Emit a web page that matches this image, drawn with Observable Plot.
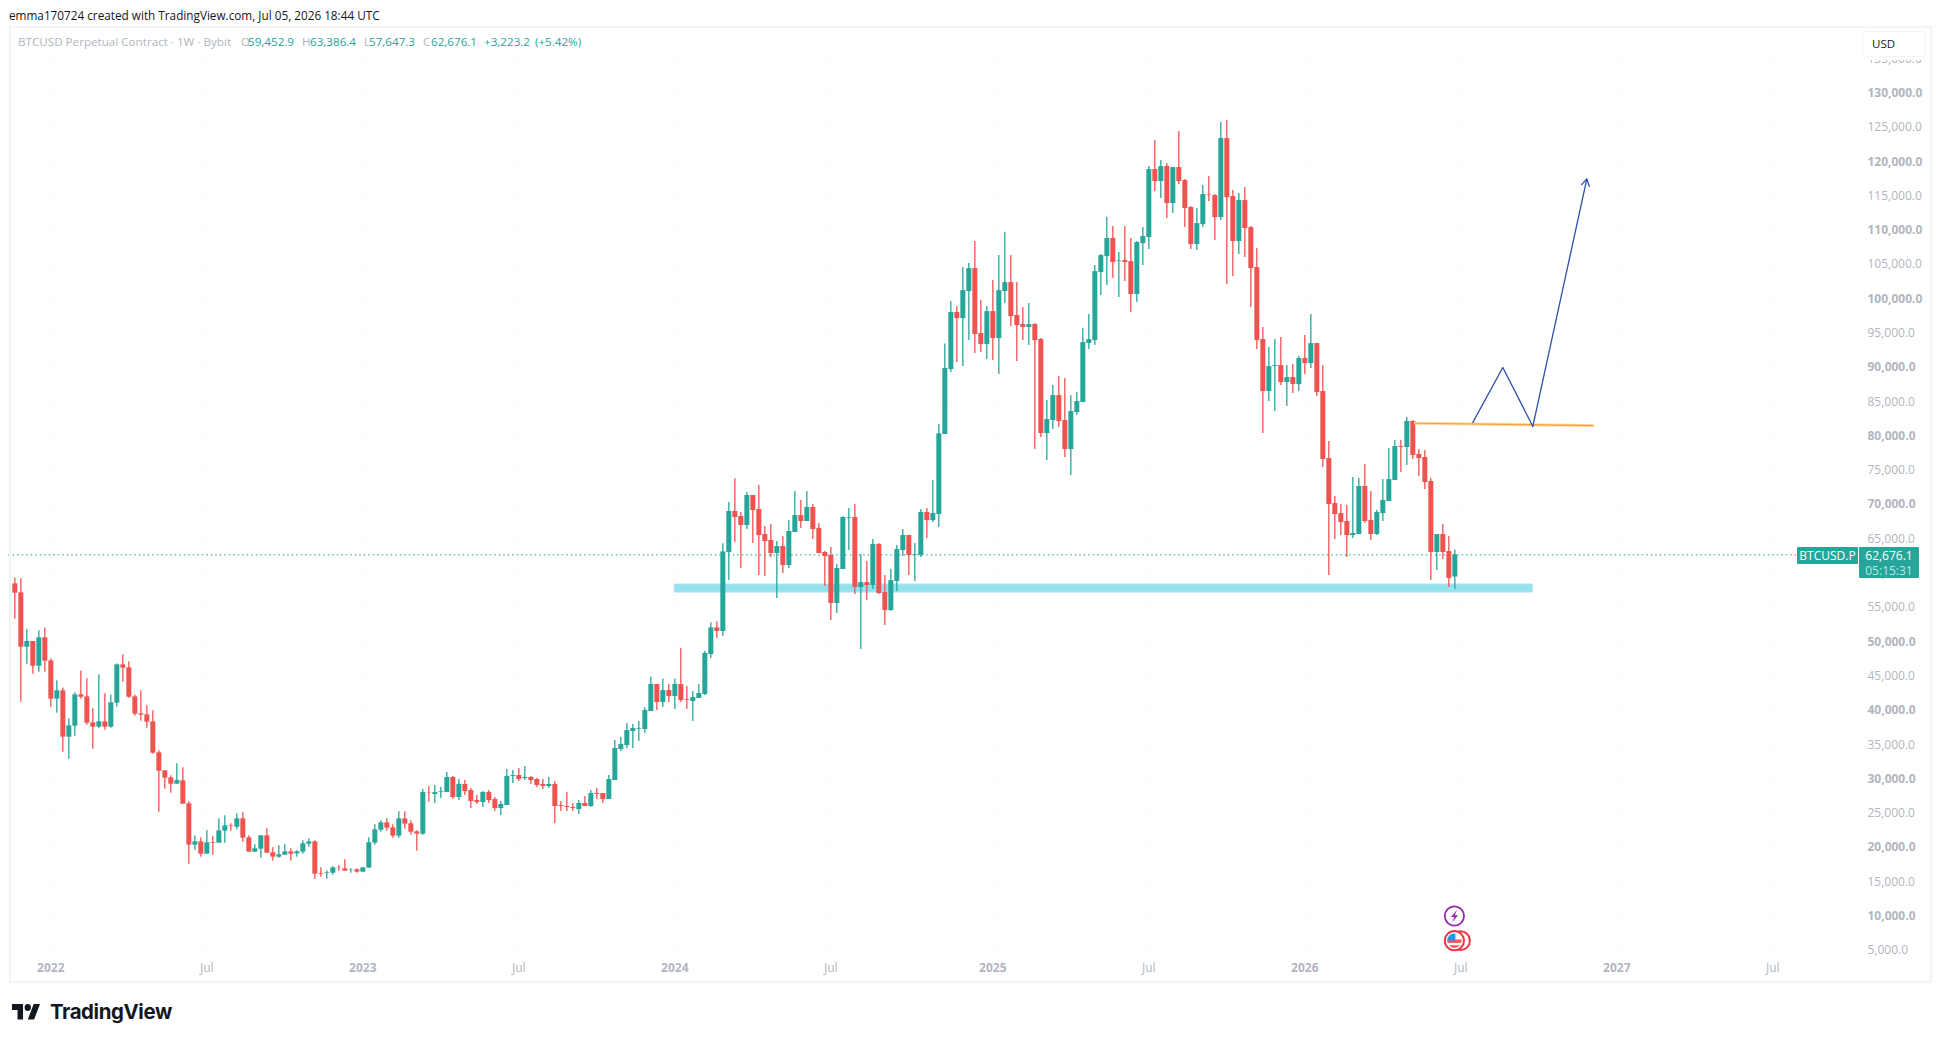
<!DOCTYPE html>
<html>
<head>
<meta charset="utf-8">
<script src="https://cdn.jsdelivr.net/npm/d3@7"></script>
<script src="https://cdn.jsdelivr.net/npm/@observablehq/plot@0.6"></script>
<style>
html,body{margin:0;padding:0;background:#fff;width:1940px;height:1042px;overflow:hidden}
body{position:relative;font-family:"Open Sans",sans-serif}
#chart{position:absolute;left:0;top:0}
.t{position:absolute;white-space:nowrap}
#frame{position:absolute;left:9px;top:26px;width:1919px;height:953px;border:2px solid #f3f4f6;pointer-events:none}
#head{left:9px;top:7px;font-size:11.75px;color:#131722}
#legend{left:18px;top:34px;font-size:11.65px;color:#b2b5be;line-height:16px}
#legend span{position:absolute;top:0;white-space:nowrap}
#legend .g{color:#26a69a}
#usdmask{left:1862px;top:31px;width:64px;height:29px;background:#fff}
#usd{left:1862px;top:31px;width:62px;height:24px;background:#fff;border:1px solid #f0f3fa;border-radius:4px;font-size:11.5px;color:#131722;line-height:24px;text-indent:9px}
#sym{left:1797px;top:547px;width:61px;height:17px;background:#26a69a;color:#fff;font-size:12px;line-height:17px;text-align:center;border-radius:1px}
#price{left:1859px;top:547px;width:60px;height:31px;background:#26a69a;color:#fff;font-size:12px;line-height:15px;text-align:center;border-radius:1px}
#price div{padding-top:1px}
#price div+div{padding-top:0;color:#bfe4e0}
#tvname{left:50px;top:1000px;font-family:Inter,sans-serif;font-weight:700;font-size:20.4px;line-height:24px;letter-spacing:-.4px;color:#131722}
</style>
</head>
<body>
<div id="chart"></div>
<div id="frame"></div>
<div class="t" id="head">emma170724 created with TradingView.com, Jul 05, 2026 18:44 UTC</div>
<div class="t" id="legend">
  <span style="left:0">BTCUSD Perpetual Contract · 1W · Bybit</span>
  <span style="left:223px">O</span><span class="g" style="left:230px">59,452.9</span>
  <span style="left:284px">H</span><span class="g" style="left:292px">63,386.4</span>
  <span style="left:346px">L</span><span class="g" style="left:351px">57,647.3</span>
  <span style="left:405px">C</span><span class="g" style="left:413px">62,676.1</span>
  <span class="g" style="left:466px">+3,223.2</span><span class="g" style="left:517px">(+5.42%)</span>
</div>
<div class="t" id="usdmask"></div>
<div class="t" id="usd">USD</div>
<div class="t" id="sym">BTCUSD.P</div>
<div class="t" id="price"><div>62,676.1</div><div>05:15:31</div></div>
<svg class="t" style="left:12px;top:1004px" width="28" height="15.5" viewBox="0 4 35.5 18" preserveAspectRatio="none"><path fill="#131722" d="M14 22H7V11H0V4h14v18zM28 22h-8l7.5-18h8L28 22z"/><circle fill="#131722" cx="20" cy="8" r="4"/></svg>
<div class="t" id="tvname">TradingView</div>
<svg class="t" style="left:1440px;top:900px" width="40" height="56" viewBox="0 0 40 56">
  <circle cx="14.4" cy="16" r="9.6" fill="#fff" stroke="#9c27b0" stroke-width="1.8"/>
  <path d="M17 9.8l-6 7.2h3.4l-2.4 5.4 6.2-7.2h-3.4z" fill="#9c27b0"/>
  <circle cx="20.5" cy="40.7" r="9.4" fill="#fff" stroke="#f23645" stroke-width="2"/>
  <circle cx="14.4" cy="40.7" r="9.6" fill="#fff" stroke="#f23645" stroke-width="2"/>
  <clipPath id="fl"><circle cx="14.4" cy="40.7" r="7.2"/></clipPath>
  <g clip-path="url(#fl)">
    <rect x="7" y="33" width="15" height="16" fill="#fff"/>
    <rect x="7" y="39.5" width="15" height="3.4" fill="#f7525f"/>
    <rect x="7" y="45.3" width="15" height="3.4" fill="#f7525f"/>
    <rect x="7" y="33" width="8.4" height="7.4" fill="#2196f3"/>
  </g>
</svg>
<script>
// Weekly BTCUSD.P candles (thousand USD), first candle week of 2021-11-22
const startWeek = "2021-11-22";
const opens = [
58.45,57.14,49.21,50.04,46.44,50.58,47.22,41.63,42.85,36.09,
37.70,42.26,41.97,38.18,37.55,38.33,37.55,41.05,46.64,46.20,
41.97,39.49,39.35,38.33,33.81,31.18,30.16,29.24,29.72,26.37,
20.35,20.83,19.03,20.69,20.64,22.39,23.16,22.97,24.18,21.42,
19.33,19.76,21.71,19.23,18.60,18.89,19.37,19.08,19.33,20.49,
20.83,16.17,16.21,16.26,17.04,16.90,16.70,16.75,16.41,17.00,
20.64,22.53,23.60,22.87,21.66,24.18,23.46,22.29,21.95,27.97,
27.73,28.07,28.02,30.21,27.29,29.19,28.31,26.85,26.56,28.02,
27.00,25.69,26.12,30.35,30.50,30.06,30.21,29.92,29.19,28.90,
29.19,26.12,25.98,25.83,25.54,26.42,25.98,27.87,27.87,27.00,
29.77,34.29,34.87,36.91,37.25,37.21,39.83,43.77,41.14,42.89,
42.02,43.77,41.58,41.29,41.73,42.31,48.14,52.03,51.50,63.02,
69.00,68.27,66.95,71.33,69.29,65.64,64.77,62.87,63.89,61.12,
65.93,68.41,67.54,69.58,66.52,63.02,62.58,55.58,60.54,68.02,
68.12,57.91,58.64,58.21,64.18,57.18,54.56,58.79,63.31,65.50,
62.58,62.58,68.85,67.68,68.56,80.22,89.70,98.01,97.13,101.07,
104.42,94.94,93.34,98.15,94.22,101.07,102.38,97.57,96.26,95.82,
96.26,94.07,80.36,82.26,85.90,82.26,78.03,83.43,84.88,93.49,
93.92,103.84,106.17,108.80,105.49,105.59,105.44,100.63,108.07,108.94,
118.86,117.11,119.30,113.90,119.15,117.25,113.32,107.92,110.84,115.16,
115.07,111.86,123.38,114.92,108.36,114.34,110.40,104.57,94.07,86.49,
90.14,90.28,87.80,88.53,87.51,91.30,90.57,93.49,86.49,76.72,
70.16,68.70,67.54,65.50,65.64,72.64,67.68,65.64,68.70,70.45,
73.52,78.47,78.33,82.12,77.31,76.87,73.37,63.02,65.64,63.16,59.4529];
const highs = [
59.32,59.18,51.74,50.04,51.60,52.03,47.51,44.31,43.28,38.77,
42.56,45.76,44.60,40.22,45.18,42.41,42.26,46.78,48.10,47.08,
42.26,42.85,40.66,39.93,34.10,31.18,30.45,32.20,31.62,26.66,
21.71,21.42,22.44,21.56,24.18,24.62,23.46,24.91,25.06,21.71,
20.40,21.71,22.73,19.96,20.25,20.40,19.81,19.52,20.98,21.27,
20.98,17.04,16.60,17.19,17.33,18.21,16.90,16.90,17.04,21.42,
23.31,23.89,24.18,23.31,25.21,25.21,23.89,22.44,28.46,28.90,
29.04,28.75,30.94,30.35,29.92,29.77,28.60,27.58,28.17,28.31,
27.29,26.71,31.37,31.23,31.52,31.81,30.35,30.06,29.92,30.21,
29.62,26.71,28.02,26.42,26.85,27.44,28.31,28.60,27.87,30.50,
35.60,36.04,38.08,37.93,38.37,40.41,44.84,43.77,44.59,43.77,
44.59,49.02,43.48,42.75,43.77,48.58,52.76,52.91,64.28,70.31,
73.76,68.85,71.76,71.33,72.79,66.81,67.10,64.62,65.35,67.68,
71.91,70.60,71.91,70.02,67.24,63.16,63.75,61.27,68.27,69.43,
70.02,62.72,61.70,64.91,64.33,59.66,60.54,64.04,66.37,65.50,
64.33,69.29,69.43,73.51,81.68,93.44,99.61,98.88,104.57,105.15,
108.36,99.76,98.88,102.67,106.32,109.67,106.32,102.38,98.74,99.32,
96.40,94.22,85.18,87.36,88.68,88.38,85.90,86.34,95.67,97.71,
104.86,106.46,111.90,110.55,106.75,110.55,108.80,108.36,110.40,119.30,
123.09,120.17,119.73,119.15,124.40,117.40,113.46,113.17,116.53,117.84,
115.21,125.71,126.00,115.80,115.36,116.23,110.55,107.34,95.82,92.91,
94.07,94.36,90.28,90.43,91.59,94.65,97.72,93.49,90.28,79.20,
71.18,70.02,69.87,73.95,73.81,75.85,71.91,69.14,73.66,78.18,
79.35,79.35,82.70,82.26,78.04,77.89,73.81,65.64,67.10,65.35,63.3864];
const lows = [
53.30,41.19,46.74,45.28,45.57,45.57,40.47,39.59,33.91,32.88,
36.24,41.63,37.84,34.34,37.40,37.11,37.40,40.47,44.11,41.78,
39.15,38.42,37.40,33.61,25.16,28.51,27.93,29.24,26.32,17.58,
19.62,18.60,19.03,18.89,20.64,20.64,22.39,22.58,20.78,19.33,
19.33,18.45,19.18,18.01,18.45,18.89,18.01,18.60,19.03,20.05,
15.39,15.68,15.39,15.97,16.56,16.56,16.26,16.26,16.41,17.00,
20.35,22.24,22.39,21.37,21.37,22.68,21.80,19.47,21.80,26.61,
26.42,27.15,28.02,27.00,26.85,27.58,25.69,26.27,25.83,26.42,
25.25,24.67,26.12,29.33,29.62,29.77,29.19,28.75,28.46,28.60,
23.50,25.25,25.25,25.25,24.81,25.98,25.83,27.00,26.42,27.00,
29.77,34.00,34.44,34.44,35.46,36.62,39.83,39.98,40.41,41.14,
40.12,41.14,40.12,38.37,41.73,42.16,47.56,50.48,50.77,58.93,
64.47,60.68,66.37,64.33,59.66,59.52,62.29,56.31,59.96,60.68,
65.93,66.52,67.54,64.91,62.87,58.06,53.10,54.12,60.54,63.31,
56.89,48.87,56.02,57.62,56.89,52.37,54.41,57.33,62.43,59.66,
58.79,62.29,65.06,67.39,66.66,80.22,89.26,90.72,90.13,93.92,
92.03,92.17,91.15,91.01,88.97,99.32,95.97,90.86,93.92,93.20,
78.03,79.78,76.43,80.95,81.24,76.87,74.24,82.99,84.88,92.61,
93.19,100.49,101.94,102.96,100.19,102.53,98.01,99.47,104.86,107.19,
115.65,114.63,111.71,112.44,116.67,110.40,107.19,107.05,110.40,114.19,
108.51,111.42,102.09,103.26,106.46,106.03,98.74,92.61,80.37,85.03,
83.57,87.36,84.30,86.20,86.49,88.97,89.84,85.76,75.41,59.66,
64.91,65.50,62.29,65.06,65.64,67.25,64.77,65.50,67.54,70.45,
73.52,74.68,75.70,76.58,74.10,72.20,58.94,60.39,62.00,57.92,57.6473];
const closes = [
57.09,49.21,50.04,46.44,50.58,47.17,41.63,42.85,36.09,37.74,
42.26,41.92,38.13,37.55,38.33,37.55,41.10,46.64,46.15,41.92,
39.45,39.30,38.28,33.76,31.13,30.11,29.24,29.77,26.32,20.35,
20.83,19.03,20.69,20.59,22.44,23.16,23.07,24.18,21.37,19.33,
19.81,21.71,19.18,18.60,18.94,19.37,19.03,19.37,20.54,20.83,
16.12,16.07,16.31,17.04,17.00,16.56,16.75,16.41,17.04,20.69,
22.58,23.60,22.82,21.66,24.18,23.41,22.24,21.95,28.02,27.92,
28.02,28.17,30.21,27.29,29.19,28.17,26.71,26.56,28.02,26.85,
25.69,26.27,30.35,30.50,29.92,30.21,29.77,29.04,28.90,29.19,
25.98,25.98,25.83,25.69,26.42,25.98,27.87,27.73,27.00,29.92,
34.44,35.02,37.06,37.35,37.35,39.98,43.77,41.14,42.89,42.02,
43.77,41.43,41.48,41.87,42.45,48.29,52.03,51.50,63.11,69.00,
68.12,66.95,71.33,69.14,65.50,64.62,62.87,63.89,61.12,66.08,
68.41,67.54,69.58,66.37,62.87,62.43,55.58,60.68,68.12,68.12,
57.91,58.64,58.21,64.18,57.04,54.56,58.93,63.45,65.50,62.58,
62.68,68.85,67.68,68.70,80.32,89.84,98.01,97.13,101.21,104.42,
94.80,93.34,98.15,94.22,101.21,102.38,97.42,96.11,95.82,96.26,
93.92,80.36,82.41,85.90,82.11,78.03,83.57,85.03,93.63,94.07,
103.98,106.32,108.80,105.30,105.59,105.30,100.63,108.21,109.09,118.86,
117.11,119.30,113.90,119.15,117.11,113.17,107.92,110.98,115.21,115.07,
111.86,123.38,114.76,108.36,114.34,110.26,104.42,93.93,86.49,90.14,
90.28,87.80,88.53,87.51,91.30,90.57,93.49,86.35,76.58,70.02,
68.56,67.39,65.50,65.79,72.64,67.54,65.64,68.85,70.60,73.66,
78.47,78.33,82.12,77.16,76.72,73.22,63.02,65.64,63.02,59.23,62.6761];

const lastPrice = 62676.1;
// drawings: week number since startWeek, price in USD
const zoneWeeks = [110, 253], zonePrices = [57180, 58350];
const levelWeeks = [233.4, 263], levelPrices = [81870, 81530];
const pathWeeks = [243, 248, 253], pathPrices = [82000, 90000, 81400];
const arrowWeek = 262, arrowPrice = 117500;
// tick labels
const boldPrices = [10,20,30,40,50,60,70,80,90,100,110,120,130].map(d => d*1000);
const lightPrices = [5,15,25,35,45,55,65,75,85,95,105,115,125,135].map(d => d*1000);
const yearTicks = ["2022-01-03","2023-01-02","2024-01-01","2025-01-06","2026-01-05","2027-01-04"];
const yearLabels = ["2022","2023","2024","2025","2026","2027"];
const julyTicks = ["2022-07-04","2023-07-03","2024-07-01","2025-07-07","2026-07-06","2027-07-05"];

const GREEN = "#26a69a", RED = "#ef5350", GREY = "#b2b5be";
const t0 = +new Date(startWeek + "T00:00:00Z");
const week = i => new Date(t0 + i * 7 * 864e5);
const candles = opens.map((o, i) => ({
  date: week(i), open: o*1000, high: highs[i]*1000, low: lows[i]*1000, close: closes[i]*1000,
  color: closes[i] >= o ? GREEN : RED
}));
const d = s => new Date(s + "T00:00:00Z");
const pathData = pathWeeks.map((w,i) => ({x: week(w), y: pathPrices[i]}));
const levelData = levelWeeks.map((w,i) => ({x: week(w), y: levelPrices[i]}));
const fmt = d3.format(",.1f");
const axisFont = {fontSize: 12, fill: GREY, tickSize: 0, label: null};

const plot = Plot.plot({
  width: 1940, height: 1042,
  marginLeft: 0, marginRight: 74, marginTop: 0, marginBottom: 84,
  style: {background: "transparent", fontFamily: '"Open Sans",sans-serif', overflow: "visible"},
  x: {type: "utc", domain: [week(0), week(300)], range: [14.33, 1814.33]},
  y: {type: "linear", domain: [5000, 135000], range: [949.91, 58.37]},
  marks: [
    Plot.gridX(yearTicks.concat(julyTicks).map(d), {stroke: "#fbfbfd", strokeOpacity: 1, y1: 5000, y2: 135000}),
    Plot.gridY(boldPrices.concat(lightPrices), {stroke: "#fcfcfd", strokeOpacity: 1, x1: week(-1), x2: week(308)}),
    Plot.axisY(boldPrices, {...axisFont, anchor: "right", tickPadding: 1, textAnchor: "start", tickFormat: fmt, fontWeight: 700}),
    Plot.axisY(lightPrices, {...axisFont, anchor: "right", tickPadding: 1, textAnchor: "start", tickFormat: fmt}),
    Plot.axisX(yearTicks.map(d), {...axisFont, anchor: "bottom", tickPadding: 5, fontWeight: 700, tickFormat: x => yearLabels[yearTicks.indexOf(x.toISOString().slice(0,10))]}),
    Plot.axisX(julyTicks.map(d), {...axisFont, anchor: "bottom", tickPadding: 5, tickFormat: () => "Jul"}),
    Plot.ruleY([lastPrice], {x1: week(-1), x2: week(297), stroke: GREEN, strokeWidth: 1.3, strokeDasharray: "1.3 3.2"}),
    Plot.rect([{}], {x1: week(zoneWeeks[0]), x2: week(zoneWeeks[1]), y1: zonePrices[0], y2: zonePrices[1], fill: "#93e3ef", stroke: "#b9dcf6", strokeWidth: 1}),
    Plot.ruleX(candles, {x: "date", y1: "low", y2: "high", stroke: "color", strokeWidth: 1.3}),
    Plot.ruleX(candles, {x: "date", y1: "open", y2: "close", stroke: "color", strokeWidth: 5}),
    Plot.line(levelData, {x: "x", y: "y", stroke: "#fdd79f", strokeWidth: 3}),
    Plot.line(levelData, {x: "x", y: "y", stroke: "#f9a13a", strokeWidth: 1.2}),
    Plot.line(pathData, {x: "x", y: "y", stroke: "#2f4fa8", strokeWidth: 1.3}),
    Plot.arrow([{}], {x1: week(pathWeeks[2]), y1: pathPrices[2], x2: week(arrowWeek), y2: arrowPrice, stroke: "#2f4fa8", strokeWidth: 1.3, bend: 0, headLength: 9})
  ]
});
document.getElementById("chart").appendChild(plot);
</script>
</body>
</html>
